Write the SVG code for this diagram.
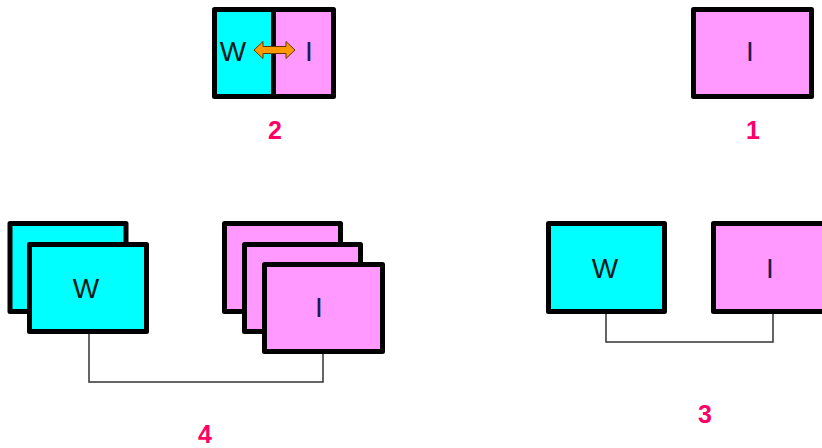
<svg xmlns="http://www.w3.org/2000/svg" width="822" height="448" viewBox="0 0 822 448">
<style>
.box{stroke:#000;stroke-width:5;stroke-linejoin:round}
.w{fill:#00FFFF}
.i{fill:#FF99FF}
.t{font-family:"Liberation Sans",Arial,sans-serif;font-size:28px;text-anchor:middle}
.tw{fill:#0a1a1a}
.ti{fill:#1a1a55}
.lbl{font-family:"Liberation Sans",Arial,sans-serif;font-size:25px;font-weight:bold;fill:#FF0066;text-anchor:middle}
.conn{fill:none;stroke:#333;stroke-width:1.5}
</style>
<rect width="822" height="448" fill="#fff"/>
<g id="connectors">
<polyline class="conn" points="606,313 606,342 773,342 773,313"/>
<polyline class="conn" points="89,333 89,382 323,382 323,353"/>
</g>
<g id="node2">
<rect class="box w" x="214.5" y="9.5" width="59" height="87"/>
<rect class="box i" x="273.5" y="9.5" width="60" height="87"/>
<text class="t tw" x="233" y="61">W</text>
<text class="t ti" x="309" y="61">I</text>
<path d="M254,50 L263,41.5 L263,46.5 L286,46.5 L286,41.5 L295,50 L286,58.5 L286,53.5 L263,53.5 L263,58.5 Z" fill="#FF9900" stroke="#663300" stroke-width="1"/>
<text class="lbl" x="275" y="139">2</text>
</g>
<g id="node1">
<rect class="box i" x="693.5" y="9.5" width="118" height="87"/>
<text class="t ti" x="750" y="61">I</text>
<text class="lbl" x="753" y="139">1</text>
</g>
<g id="node3w">
<rect class="box w" x="548.5" y="223.5" width="116" height="88"/>
<text class="t tw" x="605" y="278">W</text>
</g>
<g id="node3i">
<rect class="box i" x="713.5" y="223.5" width="116" height="88"/>
<text class="t ti" x="770" y="278">I</text>
</g>
<g id="label3"><text class="lbl" x="705" y="423">3</text></g>
<g id="node4w">
<rect class="box w" x="10" y="223.5" width="116" height="88"/>
<rect class="box w" x="29.5" y="244.5" width="117" height="87"/>
<text class="t tw" x="86" y="298">W</text>
</g>
<g id="node4i">
<rect class="box i" x="224.5" y="223.5" width="116" height="88"/>
<rect class="box i" x="244.5" y="244.5" width="116" height="87"/>
<rect class="box i" x="264.5" y="264.5" width="118" height="87"/>
<text class="t ti" x="319" y="317">I</text>
</g>
<g id="label4"><text class="lbl" x="205" y="443">4</text></g>
</svg>
